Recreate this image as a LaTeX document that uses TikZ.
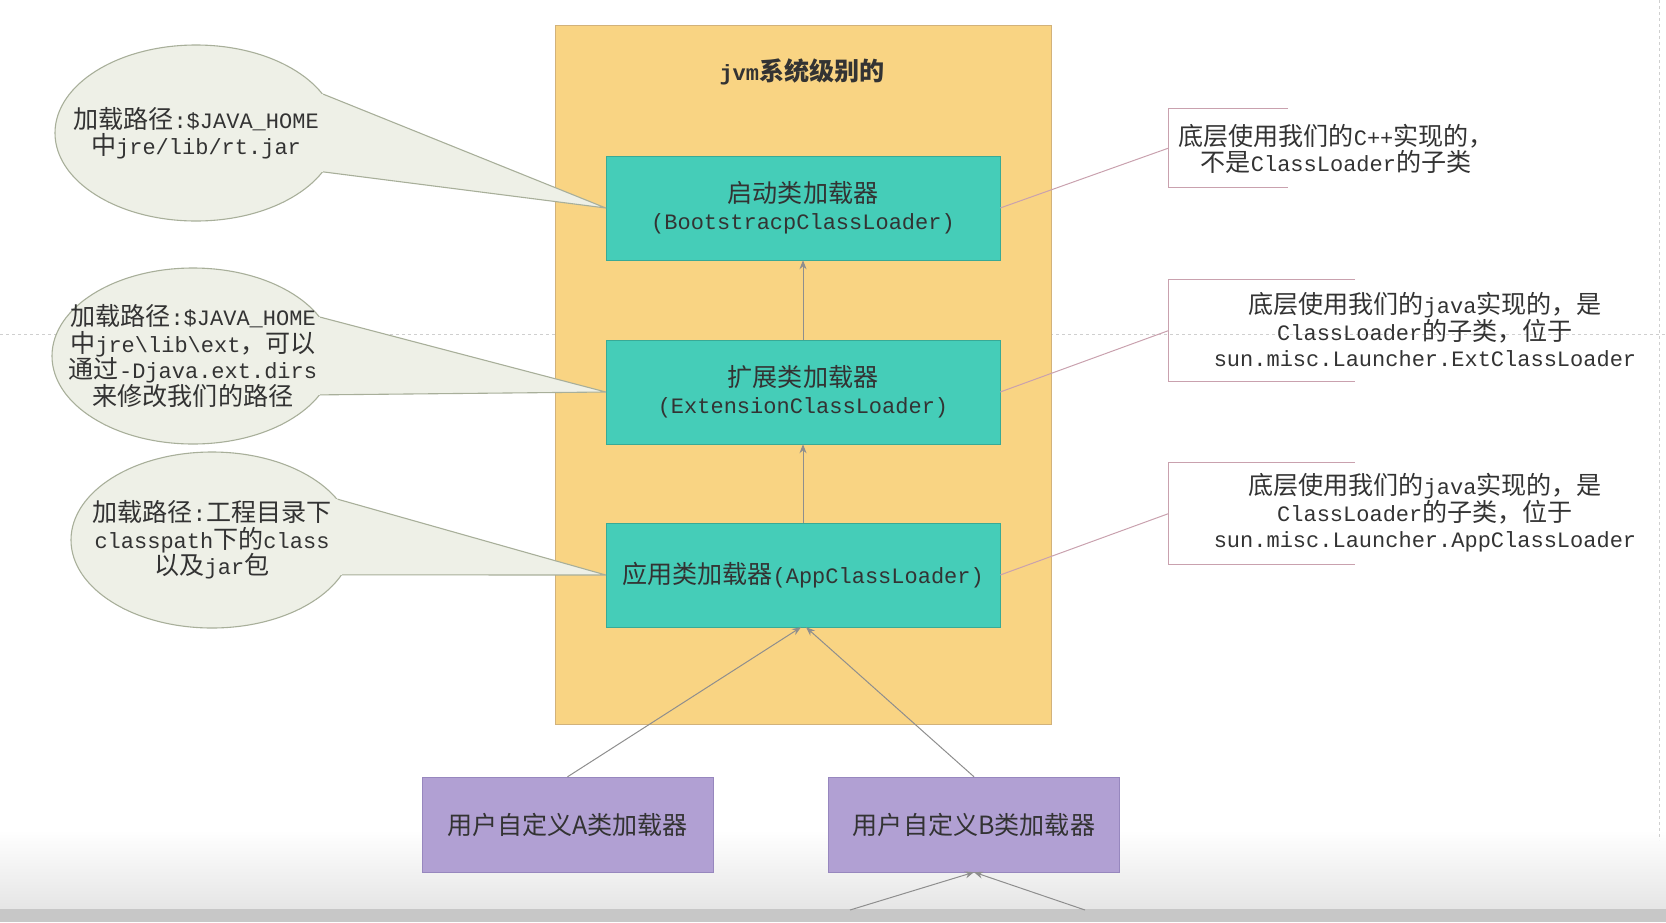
\documentclass[tikz,border=0pt]{standalone}
\usepackage{fontspec}
\setmainfont{Liberation Mono}
\newfontfamily\cjk{Noto Sans CJK SC}[Scale=1.14]
\usetikzlibrary{shapes.geometric,arrows.meta}
\definecolor{yellowfill}{HTML}{F9D483}
\definecolor{yellowline}{HTML}{D2B27A}
\definecolor{tealfill}{HTML}{45CDB8}
\definecolor{tealline}{HTML}{38AA96}
\definecolor{purplefill}{HTML}{B1A0D3}
\definecolor{purpleline}{HTML}{9787BE}
\definecolor{bubblefill}{HTML}{EEF0E7}
\definecolor{bubbleline}{HTML}{A8AF9A}
\definecolor{notepink}{HTML}{C9A1AE}
\definecolor{arrowgray}{HTML}{8E8E8E}
\definecolor{textgray}{HTML}{333333}
\definecolor{guidegray}{HTML}{CFCFCF}

\begin{document}
\begin{tikzpicture}[x=1pt,y=-1pt,>={Stealth[length=9pt,width=7pt]},
  loader/.style={draw=tealline,fill=tealfill,minimum width=394pt,minimum height=104pt,align=center,text=textgray,font=\fontsize{22}{27}\selectfont},
  userbox/.style={draw=purpleline,fill=purplefill,minimum width=291pt,minimum height=95pt,text=textgray,font=\cjk\fontsize{22}{27}\selectfont},
  bubble/.style={ellipse,draw=bubbleline,fill=bubblefill,line width=1.1pt,minimum width=282pt,minimum height=176pt,inner sep=0pt},
  pointer/.style={draw=bubbleline,line width=1.1pt,line join=round},
  bubbletext/.style={align=center,text=textgray,font=\fontsize{22}{26.5}\selectfont},
  notebox/.style={minimum width=186pt,minimum height=101pt,inner sep=0pt},
  notetext/.style={align=center,text=textgray,font=\fontsize{22}{26.5}\selectfont},
  bracket/.style={draw=notepink,line width=1.2pt},
  link/.style={draw=notepink,line width=1pt},
  parent/.style={->,draw=arrowgray,line width=1pt,color=arrowgray},
  guide/.style={draw=guidegray,dashed,line width=0.8pt}]
  \useasboundingbox (0,0) rectangle (1666,922);
  % screen background
  \fill[top color=white,bottom color=black!10] (0,830) rectangle (1666,909);
  \fill[black!22] (0,909) rectangle (1666,922);
  \draw[guide] (0,334) -- (1666,334);
  \draw[guide] (1659,0) -- (1659,840);

  % jvm level
  \node[draw=yellowline,fill=yellowfill,line width=1pt,minimum width=496pt,minimum height=699pt] (jvm) at (803,374.5) {};
  \node[text=textgray,font=\bfseries\fontsize{22}{27}\selectfont] (jvmtitle) at (802,72) {jvm{\cjk 系统级别的}};
  \node[loader] (boot) at (803,208) {{\cjk 启动类加载器}\\(BootstracpClassLoader)};
  \node[loader] (ext) at (803,392) {{\cjk 扩展类加载器}\\(ExtensionClassLoader)};
  \node[loader] (app) at (803,575) {{\cjk 应用类加载器}(AppClassLoader)};
  \draw[parent] (ext.north) -- (boot.south);
  \draw[parent] (app.north) -- (ext.south);

  % user loaders
  \node[userbox] (usera) at (567.5,824.5) {用户自定义A类加载器};
  \node[userbox] (userb) at (974,824.5) {用户自定义B类加载器};
  \draw[parent] (usera.north) -- ([xshift=-2pt]app.south);
  \draw[parent] (userb.north) -- ([xshift=3pt]app.south);
  \coordinate (leftin) at (850,910);
  \coordinate (rightin) at (1085,910);
  \draw[parent] (leftin) -- (userb.south);
  \draw[parent] (rightin) -- (userb.south);

  % load paths
  \node[bubble] (bootpath) at (196,133) {};
  \fill[bubblefill] (bootpath.17) -- (boot.west) -- (bootpath.-17) -- ([xshift=-10pt]bootpath.-17) -- ([xshift=-10pt]bootpath.17) -- cycle;
  \draw[pointer] (bootpath.17) -- (boot.west) -- (bootpath.-17);
  \node[bubbletext] at (bootpath) {{\cjk 加载路径}:\$JAVA\_HOME\\{\cjk 中}jre/lib/rt.jar};

  \node[bubble] (extpath) at (193,356) {};
  \fill[bubblefill] (extpath.17) -- (ext.west) -- (extpath.-17) -- ([xshift=-10pt]extpath.-17) -- ([xshift=-10pt]extpath.17) -- cycle;
  \draw[pointer] (extpath.17) -- (ext.west) -- (extpath.-17);
  \node[bubbletext] at (extpath) {{\cjk 加载路径}:\$JAVA\_HOME\\{\cjk 中}jre\textbackslash lib\textbackslash ext{\cjk ，可以}\\{\cjk 通过}-Djava.ext.dirs\\{\cjk 来修改我们的路径}};

  \node[bubble] (apppath) at (212,540) {};
  \fill[bubblefill] (apppath.18) -- (app.west) -- (apppath.-15) -- ([xshift=-10pt]apppath.-15) -- ([xshift=-10pt]apppath.18) -- cycle;
  \draw[pointer] (apppath.18) -- (app.west) -- (apppath.-15);
  \node[bubbletext] at (apppath) {{\cjk 加载路径}:{\cjk 工程目录下}\\classpath{\cjk 下的}class\\{\cjk 以及}jar{\cjk 包}};

  % implementation notes
  \node[notebox,minimum width=119pt,minimum height=78pt] (bootnote) at (1228.5,148) {};
  \draw[bracket] (bootnote.north east) -- (bootnote.north west) -- (bootnote.south west) -- (bootnote.south east);
  \node[notetext] at (1336,149) {{\cjk 底层使用我们的}C++{\cjk 实现的，}\\{\cjk 不是}ClassLoader{\cjk 的子类}};
  \draw[link] (boot.east) -- (bootnote.west);

  \node[notebox] (extnote) at (1262,330.5) {};
  \draw[bracket] (extnote.north east) -- (extnote.north west) -- (extnote.south west) -- (extnote.south east);
  \node[notetext] at (1425,330) {{\cjk 底层使用我们的}java{\cjk 实现的，是}\\ClassLoader{\cjk 的子类，位于}\\sun.misc.Launcher.ExtClassLoader};
  \draw[link] (ext.east) -- (extnote.west);

  \node[notebox] (appnote) at (1262,513.5) {};
  \draw[bracket] (appnote.north east) -- (appnote.north west) -- (appnote.south west) -- (appnote.south east);
  \node[notetext] at (1425,513) {{\cjk 底层使用我们的}java{\cjk 实现的，是}\\ClassLoader{\cjk 的子类，位于}\\sun.misc.Launcher.AppClassLoader};
  \draw[link] (app.east) -- (appnote.west);
\end{tikzpicture}
\end{document}
